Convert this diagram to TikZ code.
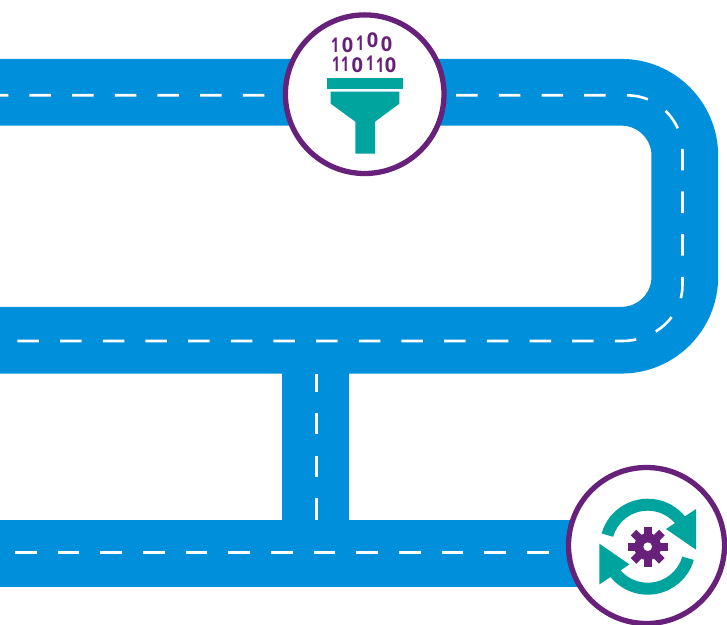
\documentclass[tikz,border=0pt]{standalone}
\usepackage{fontspec}
\setsansfont{Open Sans}
\usepackage{xcolor}
\usepackage{graphicx}
\usetikzlibrary{positioning}
\definecolor{roadblue}{HTML}{008FDA}
\definecolor{hubpurple}{HTML}{68217A}
\definecolor{iconteal}{HTML}{00A49F}
\newcommand{\bitglyph}[1]{\ifnum#1=1 \scalebox{0.7}[1.02]{1}\else\scalebox{1}[1.02]{0}\fi}

\begin{document}
\begin{tikzpicture}[
    x=1pt, y=1pt,
    road/.style={draw=roadblue, line width=66.7pt},
    lane/.style={draw=white, line width=2.6pt, dash pattern=on 21.5pt off 21.17pt},
    hub/.style={circle, draw=hubpurple, fill=white, line width=5.3pt, inner sep=0pt, minimum size=158.6pt},
    digit/.style={text=hubpurple, inner sep=0pt, font=\sffamily\bfseries\fontsize{20}{20}\selectfont},
    icon/.style={fill=iconteal}
]
\useasboundingbox (0,0) rectangle (727,624);

% roads
\draw[road] (0,531.7) -- (621.4,531.7) arc[start angle=90, end angle=0, radius=63.4] -- (684.8,347.2)
    arc[start angle=0, end angle=-90, radius=63.4] -- (0,283.8);
\draw[road] (0,70.85) -- (600,70.85);
\draw[road] (315.8,255) -- (315.8,100);

% lane markings
\draw[lane, dash phase=13.2pt] (0,528.7) -- (627,528.7) arc[start angle=90, end angle=0, x radius=55.5, y radius=55.5]
    -- (682.5,339) arc[start angle=0, end angle=-90, x radius=60.5, y radius=56] -- (0,283);
\draw[lane, dash phase=27.67pt] (0,71.3) -- (560,71.3);
\draw[lane, dash phase=3.7pt] (316.5,250) -- (316.5,104);

% hubs
\node[hub] (filter) at (364.7,529.8) {};
\node[hub, minimum size=156pt] (cycle) at (646.5,78.5) {};

% funnel
\fill[icon] (327,546) rectangle (403,535);
\fill[icon] (330.7,532.3) -- (399.3,532.3) -- (399.3,520.3) -- (375,502.3) -- (375,470.3)
    -- (355.3,470.3) -- (355.3,502.3) -- (330.7,520.3) -- cycle;

% binary digits
\foreach \px/\py/\val [count=\i] in {335/579/1, 347.7/579/0, 360/581/1, 372.7/584/0, 386.7/580/0,
    336/560/1, 345/560/1, 357.3/559/0, 370/561/1, 380/559/1, 390.7/559/0} {
    \node[digit] (d\i) at (\px,\py) {\bitglyph{\val}};
}

% gear and arrows
\begin{scope}[shift={(647.7,77.3)}]
    \foreach \a in {0,45,...,315} {
        \fill[hubpurple, rotate=\a] (-4,0) rectangle (4,20);
    }
    \fill[hubpurple] (0,0) circle (13.5);
    \fill[white] (0,0) circle (4.3);
    \foreach \r in {0,180} {
        \begin{scope}[rotate=\r]
            \fill[icon] (164:48) arc[start angle=164, end angle=38, radius=48]
                -- (38:36) arc[start angle=38, end angle=164, radius=36] -- cycle;
            \fill[icon] (48.3,37.7) -- (48.3,-3) -- (18.3,17.7) -- cycle;
        \end{scope}
    }
\end{scope}
\end{tikzpicture}
\end{document}
